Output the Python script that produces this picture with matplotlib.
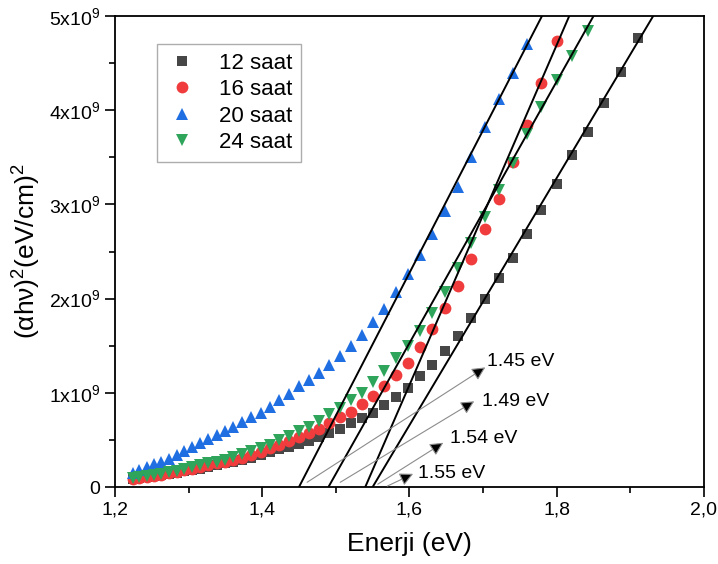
import matplotlib
matplotlib.use('Agg')
import matplotlib.pyplot as plt
from matplotlib.ticker import MultipleLocator, FuncFormatter
import numpy as np

plt.rcParams['font.family'] = ['Liberation Sans', 'DejaVu Sans']
plt.rcParams['mathtext.fontset'] = 'custom'
plt.rcParams['mathtext.rm'] = 'Liberation Sans'
plt.rcParams['mathtext.it'] = 'Liberation Sans:italic'

# photon energy (eV), shared by all samples
energy = [1.224, 1.233, 1.243, 1.253, 1.263, 1.273, 1.284, 1.294, 1.305, 1.316,
          1.327, 1.338, 1.350, 1.361, 1.373, 1.385, 1.398, 1.410, 1.423, 1.436,
          1.450, 1.463, 1.477, 1.491, 1.506, 1.520, 1.535, 1.550, 1.566, 1.582,
          1.598, 1.614, 1.631, 1.648, 1.666, 1.684, 1.702, 1.721, 1.740, 1.759,
          1.779, 1.800, 1.821, 1.842, 1.864, 1.887, 1.910]

# (alpha h nu)^2 in units of 1e9 (eV/cm)^2
s12 = [0.09, 0.10, 0.11, 0.12, 0.13, 0.14, 0.15, 0.165, 0.18, 0.195,
       0.21, 0.23, 0.25, 0.27, 0.29, 0.31, 0.34, 0.37, 0.40, 0.43,
       0.46, 0.49, 0.53, 0.57, 0.62, 0.68, 0.73, 0.79, 0.87, 0.96,
       1.05, 1.18, 1.30, 1.44, 1.60, 1.79, 2.00, 2.22, 2.43, 2.69,
       2.94, 3.22, 3.52, 3.77, 4.08, 4.41, 4.77]
s16 = [0.09, 0.10, 0.11, 0.12, 0.13, 0.15, 0.16, 0.18, 0.19, 0.21,
       0.23, 0.25, 0.27, 0.29, 0.31, 0.34, 0.37, 0.41, 0.45, 0.49,
       0.53, 0.57, 0.62, 0.68, 0.74, 0.80, 0.88, 0.97, 1.07, 1.19,
       1.32, 1.49, 1.68, 1.90, 2.13, 2.42, 2.74, 3.06, 3.45, 3.84,
       4.29, 4.73]
s20 = [0.15, 0.18, 0.21, 0.24, 0.27, 0.30, 0.34, 0.38, 0.42, 0.47,
       0.51, 0.55, 0.59, 0.64, 0.69, 0.74, 0.79, 0.85, 0.92, 0.99,
       1.07, 1.14, 1.21, 1.30, 1.39, 1.50, 1.61, 1.75, 1.89, 2.07,
       2.26, 2.46, 2.69, 2.93, 3.18, 3.50, 3.82, 4.12, 4.40, 4.70]
s24 = [0.10, 0.11, 0.12, 0.13, 0.14, 0.16, 0.17, 0.19, 0.21, 0.23,
       0.25, 0.27, 0.29, 0.32, 0.35, 0.38, 0.41, 0.45, 0.50, 0.54,
       0.59, 0.64, 0.70, 0.77, 0.84, 0.92, 1.00, 1.12, 1.23, 1.37,
       1.50, 1.66, 1.85, 2.07, 2.32, 2.59, 2.87, 3.15, 3.44, 3.75,
       4.03, 4.32, 4.58, 4.84]

labels = ['12 saat', '16 saat', '20 saat', '24 saat']
colors = ['#474747', '#f03c3c', '#1f6fe3', '#2ea55a']
markers = ['s', 'o', '^', 'v']
sizes = [7, 8.5, 8.5, 8.5]

# Tauc fit lines: band gap (x at y=0) and x where line reaches 5e9
gaps = [1.55, 1.54, 1.45, 1.49]
line_top = [1.931, 1.817, 1.780, 1.850]
gap_text = ['1.45 eV', '1.49 eV', '1.54 eV', '1.55 eV']

xtick_vals = [1.2, 1.4, 1.6, 1.8, 2.0]
ytick_vals = [0, 1, 2, 3, 4, 5]
ytick_labels = ['0', r'$\mathregular{1x10^9}$', r'$\mathregular{2x10^9}$',
                r'$\mathregular{3x10^9}$', r'$\mathregular{4x10^9}$', r'$\mathregular{5x10^9}$']

fig = plt.figure(figsize=(7.18, 5.64), dpi=100)
ax = fig.add_axes([0.160, 0.1365, 0.8205, 0.8351])

series = [s12, s16, s20, s24]
for vals, lab, c, m, ms in zip(series, labels, colors, markers, sizes):
    x = np.array(energy[:len(vals)])
    y = np.array(vals) * 1e9
    ax.plot(x, y, linestyle='none', marker=m, color=c, markersize=ms,
            markeredgewidth=0, label=lab)

for g, t in zip(gaps, line_top):
    ax.plot([g, t], [0, 5e9], color='black', lw=1.4)

# arrows pointing to the band gap labels
arrows = [((1.461, 0.05e9), (1.703, 1.27e9), (1.706, 1.33e9)),
          ((1.506, 0.05e9), (1.688, 0.91e9), (1.699, 0.91e9)),
          ((1.557, 0.03e9), (1.646, 0.47e9), (1.655, 0.51e9)),
          ((1.570, 0.01e9), (1.605, 0.14e9), (1.611, 0.145e9))]
for txt, (start, tip, tpos) in zip(gap_text, arrows):
    ax.annotate('', xy=tip, xytext=start,
                arrowprops=dict(arrowstyle='-|>', lw=0.8, edgecolor='#8c8c8c',
                                facecolor='black', mutation_scale=20, shrinkA=0, shrinkB=0))
    ax.text(tpos[0], tpos[1], txt, fontsize=14, ha='left', va='center')

ax.set_xlim(1.2, 2.0)
ax.set_ylim(0, 5e9)
ax.set_xticks(xtick_vals)
ax.xaxis.set_major_formatter(FuncFormatter(lambda v, p: '{:.1f}'.format(v).replace('.', ',')))
ax.xaxis.set_minor_locator(MultipleLocator(0.1))
ax.set_yticks([v * 1e9 for v in ytick_vals])
ax.set_yticklabels(ytick_labels)
ax.yaxis.set_minor_locator(MultipleLocator(0.5e9))
ax.tick_params(which='major', direction='out', length=7, width=1.2, labelsize=14)
ax.tick_params(which='minor', direction='out', length=4, width=1.2)
for sp in ax.spines.values():
    sp.set_linewidth(1.3)

ax.set_xlabel('Enerji (eV)', fontsize=19, labelpad=10)
ax.set_ylabel(r'$\mathregular{(αhν)^2(eV/cm)^2}$', fontsize=19, labelpad=4)

leg = ax.legend(loc='upper left', bbox_to_anchor=(0.052, 0.965), fontsize=16,
                frameon=True, fancybox=False, edgecolor='#999999',
                handletextpad=0.9, borderpad=0.4, labelspacing=0.25, handlelength=1.5)
leg.get_frame().set_linewidth(1.0)

fig.savefig('out.png', dpi=100)
